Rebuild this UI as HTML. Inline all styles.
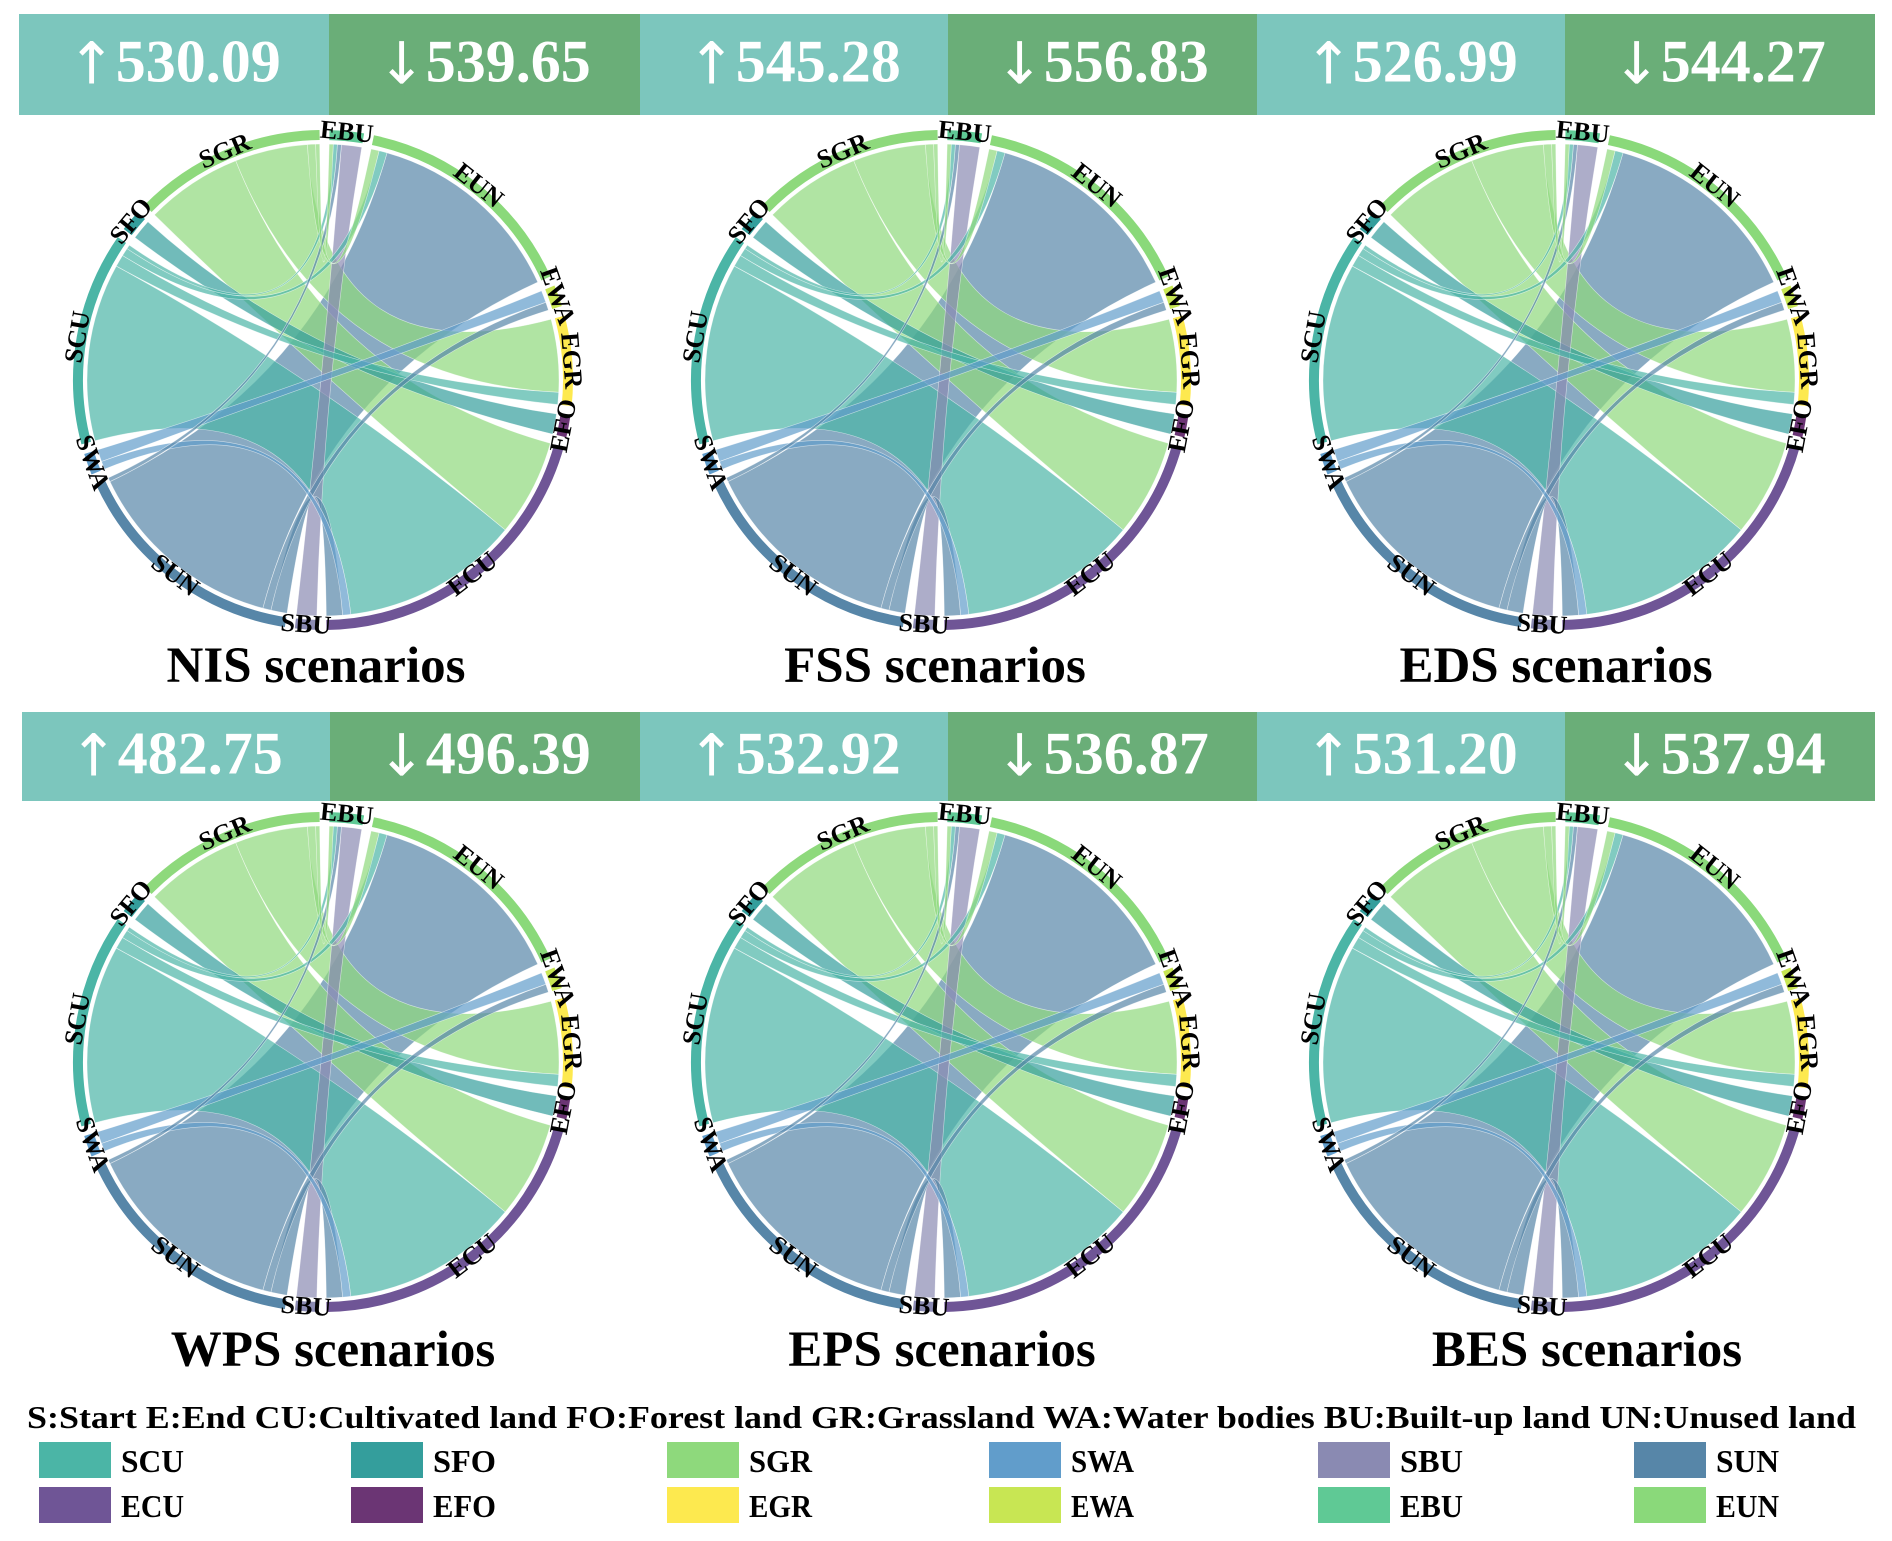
<!DOCTYPE html>
<html><head><meta charset="utf-8"><style>
body{margin:0;background:#fff}
svg{display:block}
text{font-family:"Liberation Serif",serif;font-weight:bold}
</style></head><body>
<svg id="chart" width="1892" height="1541" viewBox="0 0 1892 1541" xmlns="http://www.w3.org/2000/svg"></svg>
<script>
const sectorNames = ["EBU","EUN","EWA","EGR","EFO","ECU","SBU","SUN","SWA","SCU","SFO","SGR"];
const sectorColors = ["#5fc995","#8ad97a","#c8e653","#fde94f","#6b3574","#6f5596","#8a8ab2","#5786a8","#619dcb","#4bb5a6","#349e9c","#8ed97c"];
const flowFrom = ["SUN","SUN","SUN","SUN","SCU","SCU","SCU","SCU","SGR","SGR","SGR","SGR","SFO","SBU","SWA","SWA"];
const flowTo   = ["EUN","ECU","EWA","EBU","ECU","EUN","EBU","EGR","EGR","ECU","EUN","EBU","EFO","EBU","EWA","ECU"];
const flowVals = [50,4,2,1,44,2,1,3,18,24,2,1,5,5,3,2];
const scenarioNames = ["NIS","FSS","EDS","WPS","EPS","BES"];
const increaseVals = ["530.09","545.28","526.99","482.75","532.92","531.20"];
const decreaseVals = ["539.65","556.83","544.27","496.39","536.87","537.94"];
const legendNames = ["SCU","SFO","SGR","SWA","SBU","SUN","ECU","EFO","EGR","EWA","EBU","EUN"];
const legendColors = ["#4bb5a6","#349e9c","#8ed97c","#619dcb","#8a8ab2","#5786a8","#6f5596","#6b3574","#fde94f","#c8e653","#5fc995","#8ad97a"];

const svg = document.getElementById('chart');
const NS = "http://www.w3.org/2000/svg";
function mk(tag, attrs, parent){const e=document.createElementNS(NS,tag);for(const k in attrs)e.setAttribute(k,attrs[k]);(parent||svg).appendChild(e);return e;}

const panels = [
 {hx:19,hy:14,hw:310,hh:101,cx:323,cy:380,tx:316,ty:682},
 {hx:640,hy:14,hw:308,hh:101,cx:941,cy:380,tx:935,ty:682},
 {hx:1257,hy:14,hw:308,hh:101,cx:1559,cy:380,tx:1556,ty:682},
 {hx:22,hy:712,hw:308,hh:89,cx:323,cy:1062,tx:333,ty:1366},
 {hx:640,hy:712,hw:308,hh:89,cx:941,cy:1062,tx:942,ty:1366},
 {hx:1257,hy:712,hw:308,hh:89,cx:1559,cy:1062,tx:1587,ty:1366}
];

function pt(cx,cy,r,a){const t=a*Math.PI/180;return [cx+r*Math.sin(t),cy-r*Math.cos(t)];}

function drawChord(g,cx,cy){
  const n=sectorNames.length;
  const tot=new Array(n).fill(0);
  flowVals.forEach((v,i)=>{tot[sectorNames.indexOf(flowFrom[i])]+=v;tot[sectorNames.indexOf(flowTo[i])]+=v;});
  const sum=tot.reduce((a,b)=>a+b,0);
  const gap=2.3;
  const scale=(360-n*gap)/sum;
  const start=[],end=[];
  let a=1.5;
  for(let i=0;i<n;i++){start[i]=a;end[i]=a+tot[i]*scale;a=end[i]+gap;}
  const srcRange={},tgtRange={};
  for(let s=0;s<n;s++){
    let idx=flowVals.map((v,i)=>i).filter(i=>sectorNames.indexOf(flowFrom[i])===s);
    idx.sort((p,q)=>sectorNames.indexOf(flowTo[q])-sectorNames.indexOf(flowTo[p]));
    let c=start[s];idx.forEach(i=>{srcRange[i]=[c,c+flowVals[i]*scale];c+=flowVals[i]*scale;});
    let idx2=flowVals.map((v,i)=>i).filter(i=>sectorNames.indexOf(flowTo[i])===s);
    idx2.sort((p,q)=>sectorNames.indexOf(flowFrom[q])-sectorNames.indexOf(flowFrom[p]));
    c=start[s];idx2.forEach(i=>{tgtRange[i]=[c,c+flowVals[i]*scale];c+=flowVals[i]*scale;});
  }
  const R=236;
  const order=flowVals.map((v,i)=>i).sort((p,q)=>flowVals[q]-flowVals[p]);
  order.forEach(i=>{
    const [s0,s1]=srcRange[i],[t0,t1]=tgtRange[i];
    const p0=pt(cx,cy,R,s0),p1=pt(cx,cy,R,s1),q0=pt(cx,cy,R,t0),q1=pt(cx,cy,R,t1);
    const d=`M${p0} A${R} ${R} 0 ${s1-s0>180?1:0} 1 ${p1} Q${cx} ${cy} ${q0} A${R} ${R} 0 ${t1-t0>180?1:0} 1 ${q1} Q${cx} ${cy} ${p0}Z`;
    const col=sectorColors[sectorNames.indexOf(flowFrom[i])];
    const r=mk('path',{d:d,fill:col,'fill-opacity':0.7,stroke:'#fff','stroke-width':0.6,'stroke-opacity':0.6},g);
    
    
  });
  for(let s=0;s<n;s++){
    const r2=245;
    const p0=pt(cx,cy,r2,start[s]),p1=pt(cx,cy,r2,end[s]);
    const arc=mk('path',{d:`M${p0} A${r2} ${r2} 0 ${end[s]-start[s]>180?1:0} 1 ${p1}`,fill:'none',stroke:sectorColors[s],'stroke-width':10},g);
    
    
  }
  for(let s=0;s<n;s++){
    const mid=(start[s]+end[s])/2;
    let rot=(mid>90&&mid<270)?mid-180:mid;
    const [lx,ly]=pt(cx,cy,247,mid);
    const t=mk('text',{x:lx,y:ly,'text-anchor':'middle','dominant-baseline':'middle','font-size':26,fill:'#000',transform:`rotate(${rot} ${lx} ${ly})`},g);
    t.textContent=sectorNames[s];
    
    
  }
}

panels.forEach((p,k)=>{
  const g=mk('g',{});
  
  
  const b1=mk('rect',{x:p.hx,y:p.hy,width:p.hw,height:p.hh,fill:'#7cc6bd'},g);
  
  
  const b2=mk('rect',{x:p.hx+p.hw,y:p.hy,width:p.hw+2,height:p.hh,fill:'#6aae78'},g);
  
  
  const t1=mk('text',{x:p.hx+p.hw/2,y:p.hy+p.hh/2+3,'text-anchor':'middle','dominant-baseline':'middle','font-size':60,fill:'#fff'},g);
  t1.innerHTML='<tspan font-weight="normal" font-family="DejaVu Sans" font-size="58">↑</tspan>'+increaseVals[k];
  
  
  const t2=mk('text',{x:p.hx+p.hw*1.5,y:p.hy+p.hh/2+3,'text-anchor':'middle','dominant-baseline':'middle','font-size':60,fill:'#fff'},g);
  t2.innerHTML='<tspan font-weight="normal" font-family="DejaVu Sans" font-size="58">↓</tspan>'+decreaseVals[k];
  
  
  drawChord(g,p.cx,p.cy);
  const tt=mk('text',{x:p.tx,y:p.ty,'text-anchor':'middle','font-size':51,fill:'#000'},g);
  tt.textContent=scenarioNames[k]+' scenarios';
  
  
});

const lg=mk('g',{});


const lt=mk('text',{x:27,y:1428,'font-size':32,fill:'#000',textLength:1829,lengthAdjust:'spacingAndGlyphs'},lg);
lt.textContent='S:Start  E:End  CU:Cultivated land  FO:Forest land  GR:Grassland  WA:Water bodies  BU:Built-up land  UN:Unused land';


const colX=[39,351,667,989,1318,1634];
legendNames.forEach((nm,i)=>{
  const x=colX[i%6],y=i<6?1442:1487;
  const r=mk('rect',{x:x,y:y,width:72,height:36,fill:legendColors[i]},lg);
  
  
  const t=mk('text',{x:x+82,y:y+30,'font-size':32,fill:'#000',textLength:nm.length*21,lengthAdjust:'spacingAndGlyphs'},lg);
  t.textContent=nm;
  
  
});
</script>
</body></html>
